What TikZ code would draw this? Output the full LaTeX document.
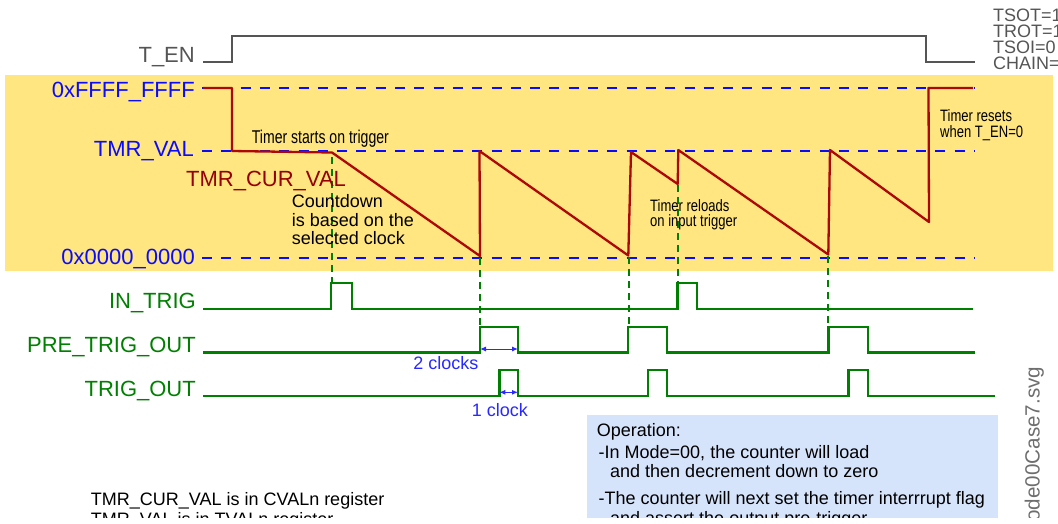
\documentclass[tikz,border=0pt]{standalone}
\usepackage{fontspec}
\setmainfont{Liberation Sans}
\usetikzlibrary{arrows.meta}
\definecolor{band}{RGB}{255,230,128}
\definecolor{lvlblue}{RGB}{10,10,255}
\definecolor{sigred}{RGB}{172,8,8}
\definecolor{sigtext}{RGB}{150,0,0}
\definecolor{siggreen}{RGB}{0,128,0}
\definecolor{engrey}{RGB}{85,85,85}
\definecolor{opbox}{RGB}{214,228,251}
\definecolor{spanblue}{RGB}{40,40,255}
\newcommand{\fsz}[1]{\fontsize{#1}{#1}\selectfont}
\newcommand{\cond}[2]{\scalebox{#1}[1]{#2}}
\tikzset{
  lbl/.style={anchor=base east, inner sep=0pt, font=\fsz{22}},
  note/.style={anchor=base west, inner sep=0pt, font=\fsz{18}, text=black},
  cnote/.style={anchor=base west, inner sep=0pt, font=\fsz{16.5}, text=black},
  level/.style={lvlblue, line width=2pt, dash pattern=on 10pt off 9.3pt},
  guide/.style={siggreen, line width=2pt, dash pattern=on 7pt off 5pt},
  wave/.style={siggreen, line width=2.4pt, line join=miter},
  enline/.style={engrey, line width=2pt},
  cnt/.style={sigred, line width=2.3pt, line join=round},
  span/.style={spanblue, line width=1pt, {Latex[length=6pt,width=5pt]}-{Latex[length=6pt,width=5pt]}},
  clk/.style={anchor=base, inner sep=0pt, font=\fsz{18}, text=spanblue},
}
\begin{document}
\begin{tikzpicture}[x=1pt,y=-1pt]
\clip (0,0) rectangle (1058,523);
\begin{scope}
\clip (0,0) rectangle (1058,517.5);
% yellow band
\fill[band] (5,75) rectangle (1053,271);
% T_EN
\node[lbl, text=engrey] (ten) at (195,62.5) {T\_EN};
\draw[enline] (203,62) -- (232,62) -- (232,36) -- (926,36) -- (926,62) -- (975,62);
% status text
\node[note, text=engrey] (tsot) at (993,21) {TSOT=1};
\node[note, text=engrey] (trot) at (993,37) {TROT=1};
\node[note, text=engrey] (tsoi) at (993,53) {TSOI=0};
\node[note, text=engrey] (chain) at (993,69) {CHAIN=0};
% level labels
\node[lbl, text=lvlblue] (vmax) at (195,97.3) {0xFFFF\_FFFF};
\node[lbl, text=lvlblue] (vtmr) at (194,156.7) {TMR\_VAL};
\node[lbl, text=lvlblue] (vzero) at (195,264) {0x0000\_0000};
\coordinate (lmaxa) at (202,88);  \coordinate (lmaxb) at (975,88);
\coordinate (ltmra) at (202,151); \coordinate (ltmrb) at (975,151);
\coordinate (lzera) at (202,258); \coordinate (lzerb) at (975,258);
\draw[level] (lmaxa) -- (lmaxb);
\draw[level] (ltmra) -- (ltmrb);
\draw[level] (lzera) -- (lzerb);
% green guides
\draw[guide] (331.5,157) -- (331.5,283);
\draw[guide] (480,258) -- (480,327);
\draw[guide] (628.5,257) -- (628.5,327);
\draw[guide] (677.7,185) -- (677.7,283);
\draw[guide] (828.3,256) -- (828.3,327);
% counter waveform
\draw[cnt] (203,88) -- (232,88) -- (232,151) -- (332,152.5) -- (480,256) -- (479.5,151)
  -- (628.3,255.5) -- (631,152) -- (677.7,184) -- (678.3,150) -- (828.3,254.5)
  -- (830,150) -- (929,222) -- (928.5,88) -- (973,88);
\node[anchor=base west, inner sep=0pt, font=\fsz{22}, text=sigtext] (cur) at (186,186) {TMR\_CUR\_VAL};
% annotations
\node[cnote, font=\fsz{18.5}] (nstart) at (251.7,143.3) {\cond{0.76}{Timer starts on trigger}};
\node[note] (ncount1) at (291.7,207.7) {Countdown};
\node[note] (ncount2) at (291.7,226) {is based on the};
\node[note] (ncount3) at (291.7,244.3) {selected clock};
\node[cnote] (nreload1) at (650,211.7) {\cond{0.79}{Timer reloads}};
\node[cnote] (nreload2) at (650,226.7) {\cond{0.79}{on input trigger}};
\node[cnote] (nreset1) at (940,121.7) {\cond{0.79}{Timer resets}};
\node[cnote] (nreset2) at (940,137.5) {\cond{0.79}{when T\_EN=0}};
% signal labels
\node[lbl, text=siggreen] (intrig) at (196,308.5) {IN\_TRIG};
\node[lbl, text=siggreen] (pretrig) at (196,352.3) {PRE\_TRIG\_OUT};
\node[lbl, text=siggreen] (trigout) at (196,396) {TRIG\_OUT};
% signals
\draw[wave] (203,309) -- (331,309) -- (331,283) -- (352,283) -- (352,309) -- (677.5,309)
  -- (677.5,283) -- (697,283) -- (697,309) -- (973,309);
\draw[wave] (203,352.5) -- (480,352.5) -- (480,327) -- (518,327) -- (518,352.5) -- (628,352.5)
  -- (628,327) -- (667,327) -- (667,352.5) -- (828.3,352.5) -- (828.3,327) -- (868,327)
  -- (868,352.5) -- (975,352.5);
\draw[wave] (203,396) -- (499.3,396) -- (499.3,370) -- (518,370) -- (518,396) -- (648,396)
  -- (648,370) -- (667,370) -- (667,396) -- (848.5,396) -- (848.5,370) -- (868,370)
  -- (868,396) -- (995,396);
% clock spans
\coordinate (s2a) at (480,349); \coordinate (s2b) at (518,349);
\coordinate (s1a) at (499.3,392.3); \coordinate (s1b) at (518,392.3);
\draw[span] (s2a) -- (s2b);
\draw[span] (s1a) -- (s1b);
\node[clk] (clk2) at (446,369) {2 clocks};
\node[clk] (clk1) at (500,416) {1 clock};
% operation box
\fill[opbox] (587,415) rectangle (998,530);
\node[note] (op0) at (596.7,436) {Operation:};
\node[note] (op1) at (598.5,458) {-In Mode=00, the counter will load};
\node[note] (op2) at (610,477) {and then decrement down to zero};
\node[note] (op3) at (598.5,504.5) {-The counter will next set the timer interrrupt flag};
\node[note] (op4) at (610,524) {and assert the output pre-trigger};
% register notes
\node[note] (reg1) at (90.7,505.7) {TMR\_CUR\_VAL is in CVALn register};
\node[note] (reg2) at (90.7,525.2) {TMR\_VAL is in TVALn register};
% file name stamp
\node[rotate=90, anchor=base east, inner sep=0pt, font=\fsz{20.6}, text=engrey!85] (fname) at (1039.5,366.7) {Mode00Case7.svg};
\end{scope}
\end{tikzpicture}
\end{document}
